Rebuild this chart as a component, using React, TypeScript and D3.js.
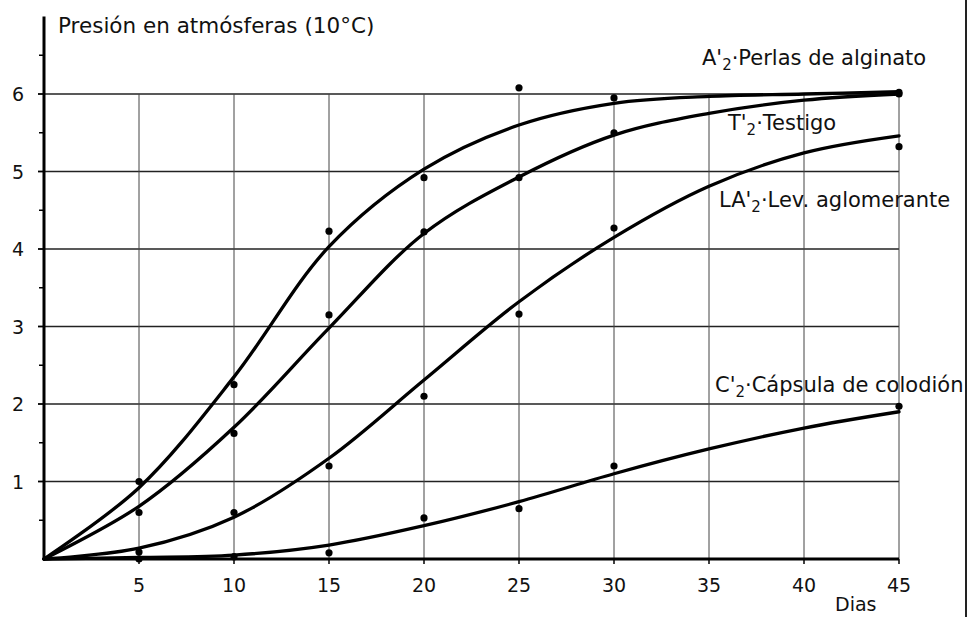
import React from 'react';
import * as d3 from 'd3';

// Smooth fitted curves, read at 5-day intervals
const curveDays = [0, 5, 10, 15, 20, 25, 30, 35, 40, 45];
const curveA = [0, 0.92, 2.35, 4.03, 5.03, 5.6, 5.88, 5.97, 6.0, 6.03];
const curveT = [0, 0.68, 1.7, 2.98, 4.2, 4.93, 5.47, 5.75, 5.92, 6.0];
const curveLA = [0, 0.14, 0.54, 1.3, 2.31, 3.32, 4.15, 4.81, 5.24, 5.46];
const curveC = [0, 0.02, 0.05, 0.18, 0.43, 0.74, 1.1, 1.42, 1.69, 1.9];

// Observed points
const obsDays = [5, 10, 15, 20, 25, 30, 45];
const obsA = [1.0, 2.25, 4.23, 4.92, 6.08, 5.95, 6.02];
const obsT = [0.6, 1.62, 3.15, 4.22, 4.92, 5.5, 6.0];
const obsLA = [0.09, 0.6, 1.2, 2.1, 3.16, 4.27, 5.32];
const obsC = [0.0, 0.03, 0.08, 0.53, 0.65, 1.2, 1.97];

const xTicks = [5, 10, 15, 20, 25, 30, 35, 40, 45];
const yTicks = [1, 2, 3, 4, 5, 6];
const yMinorTicks = [0.5, 1.5, 2.5, 3.5, 4.5, 5.5, 6.5];

const titleText = 'Presión en atmósferas (10°C)';
const xAxisLabel = 'Dias';

const FONT = '"DejaVu Sans", sans-serif';

function SeriesLabel({ x, y, prefix, rest }: { x: number; y: number; prefix: string; rest: string }) {
  return (
    <text x={x} y={y} fontFamily={FONT} fontSize={21} fill="#111">
      {prefix}
      <tspan fontSize={15} dy={5}>2</tspan>
      <tspan dy={-5}>{'·' + rest}</tspan>
    </text>
  );
}

export default function App() {
  const W = 969;
  const H = 617;
  const x = d3.scaleLinear().domain([0, 45]).range([44, 899]);
  const y = d3.scaleLinear().domain([0, 6]).range([559, 94]);

  const line = d3
    .line<number>()
    .x((_, i) => x(curveDays[i]))
    .y((d) => y(d))
    .curve(d3.curveCatmullRom.alpha(0.5));

  const curves = [curveA, curveT, curveLA, curveC];
  const obs = [obsA, obsT, obsLA, obsC];

  return (
    <svg width={W} height={H} style={{ position: 'absolute', left: 0, top: 0, background: '#fff' }}>
      <rect x={0} y={0} width={W} height={H} fill="#fff" />
      {/* horizontal grid */}
      {yTicks.map((t) => (
        <line key={'h' + t} x1={x(0)} x2={x(45)} y1={y(t)} y2={y(t)} stroke="#222" strokeWidth={1.3} />
      ))}
      {/* vertical grid */}
      {xTicks.map((t) => (
        <line key={'v' + t} x1={x(t)} x2={x(t)} y1={y(0)} y2={y(6)} stroke="#444" strokeWidth={1} />
      ))}
      {/* y axis */}
      <line x1={x(0)} x2={x(0)} y1={y(0) + 1} y2={y(7)} stroke="#000" strokeWidth={3} />
      {yTicks.map((t) => (
        <line key={'yt' + t} x1={x(0) - 6} x2={x(0)} y1={y(t)} y2={y(t)} stroke="#000" strokeWidth={1.8} />
      ))}
      {yMinorTicks.map((t) => (
        <line key={'ym' + t} x1={x(0) - 5} x2={x(0)} y1={y(t)} y2={y(t)} stroke="#000" strokeWidth={1.5} />
      ))}
      {yTicks.map((t) => (
        <text key={'yl' + t} x={x(0) - 20} y={y(t) + 7} textAnchor="end" fontFamily={FONT} fontSize={19} fill="#111">
          {t}
        </text>
      ))}
      {/* x axis */}
      <line x1={x(0)} x2={x(45)} y1={y(0)} y2={y(0)} stroke="#000" strokeWidth={3} />
      {xTicks.map((t) => (
        <line key={'xt' + t} x1={x(t)} x2={x(t)} y1={y(0)} y2={y(0) + 5} stroke="#000" strokeWidth={1.5} />
      ))}
      {xTicks.map((t) => (
        <text key={'xl' + t} x={x(t)} y={y(0) + 33} textAnchor="middle" fontFamily={FONT} fontSize={19} fill="#111">
          {t}
        </text>
      ))}
      <text x={835} y={611} fontFamily={FONT} fontSize={19} fill="#111">
        {xAxisLabel}
      </text>
      {/* title */}
      <text x={58} y={33} fontFamily={FONT} fontSize={21.5} fill="#111">
        {titleText}
      </text>
      {/* curves */}
      {curves.map((c, i) => (
        <path key={'c' + i} d={line(c) || ''} fill="none" stroke="#000" strokeWidth={3.3} strokeLinecap="round" />
      ))}
      {/* points */}
      {obs.map((s, i) =>
        s.map((v, j) => <circle key={'p' + i + '-' + j} cx={x(obsDays[j])} cy={y(v)} r={3.6} fill="#000" />)
      )}
      {/* series labels */}
      <SeriesLabel x={702} y={65} prefix="A'" rest="Perlas de alginato" />
      <SeriesLabel x={728} y={130} prefix="T'" rest="Testigo" />
      <SeriesLabel x={719} y={207} prefix="LA'" rest="Lev. aglomerante" />
      <SeriesLabel x={715} y={392} prefix="C'" rest="Cápsula de colodión" />
      {/* page edge */}
      <line x1={966} x2={966} y1={0} y2={H} stroke="#222" strokeWidth={2} />
    </svg>
  );
}
